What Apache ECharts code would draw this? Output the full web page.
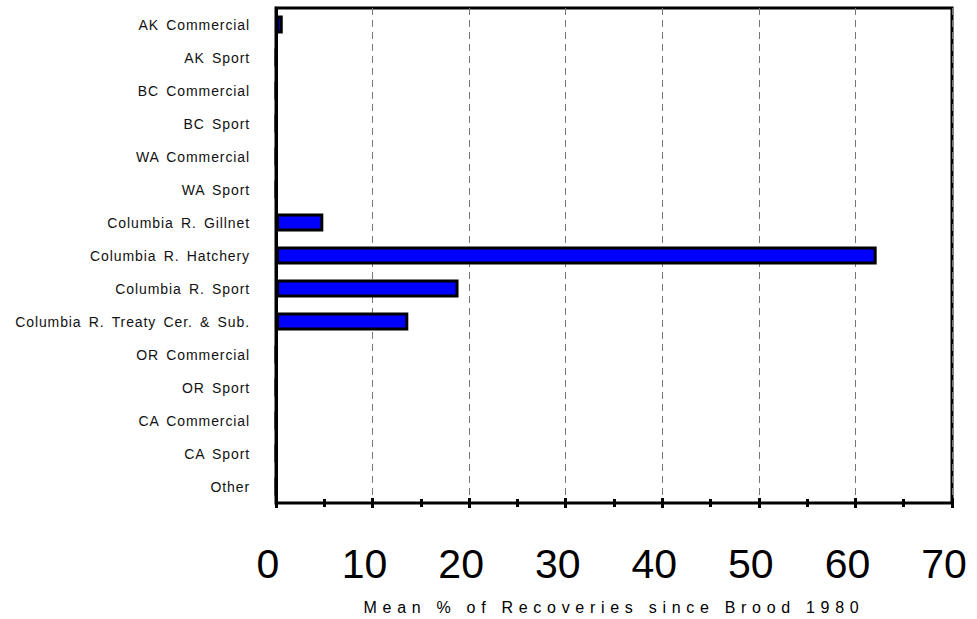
<!DOCTYPE html>
<html>
<head>
<meta charset="utf-8">
<script src="https://cdn.jsdelivr.net/npm/echarts@6/dist/echarts.min.js"></script>
<style>
  html, body { margin: 0; padding: 0; background: #fff; }
  #chart { width: 977px; height: 619px; }
</style>
</head>
<body>
<div id="chart"></div>
<script>
const categories = [
  'AK Commercial', 'AK Sport', 'BC Commercial', 'BC Sport', 'WA Commercial',
  'WA Sport', 'Columbia R. Gillnet', 'Columbia R. Hatchery', 'Columbia R. Sport',
  'Columbia R. Treaty Cer. & Sub.', 'OR Commercial', 'OR Sport', 'CA Commercial',
  'CA Sport', 'Other'
];
const meanRecoveries = [0.7, 0, 0, 0, 0, 0, 4.9, 62.2, 18.9, 13.7, 0, 0, 0, 0, 0];
const xTicks = [0, 10, 20, 30, 40, 50, 60, 70];
const xTitle = 'Mean % of Recoveries since Brood 1980';

const chart = echarts.init(document.getElementById('chart'), null, { renderer: 'svg' });

const tickAxis = (inside) => ({
  type: 'value',
  position: 'bottom',
  min: xTicks[0],
  max: xTicks[xTicks.length - 1],
  interval: 10,
  axisLine: { show: inside, lineStyle: { color: '#000', width: 2 } },
  axisTick: { show: true, inside: inside, length: 5, lineStyle: { color: '#000', width: 3 } },
  minorTick: { show: true, splitNumber: 2, length: 4, lineStyle: { color: '#000', width: 3 } },
  splitLine: { show: false },
  axisLabel: { show: false }
});

const mainX = tickAxis(true);
mainX.axisLabel = {
  show: true, color: '#000', fontSize: 41, margin: 40,
  padding: [0, 16, 0, 0],
  fontFamily: 'Liberation Sans, Arial, sans-serif'
};
mainX.splitLine = { show: true, lineStyle: { color: '#777', type: [7, 5], width: 1 } };
mainX.name = xTitle;
mainX.nameLocation = 'middle';
mainX.nameGap = 96;
mainX.nameTextStyle = { color: '#000', fontSize: 16, fontFamily: 'Liberation Sans, Arial, sans-serif' };

chart.setOption({
  animation: false,
  grid: {
    left: 276, right: 25, top: 8, bottom: 116,
    outerBoundsMode: 'none',
    show: true, borderColor: '#000', borderWidth: 3, backgroundColor: 'transparent'
  },
  xAxis: [mainX, tickAxis(false)],
  yAxis: {
    type: 'category',
    inverse: true,
    data: categories,
    axisLine: { show: true, lineStyle: { color: '#000', width: 3 } },
    axisTick: { show: false },
    axisLabel: {
      color: '#111', fontSize: 14, margin: 26,
      fontFamily: 'Liberation Sans, Arial, sans-serif'
    }
  },
  series: [{
    type: 'bar',
    data: meanRecoveries,
    barWidth: '54%',
    itemStyle: { color: '#0000ff', borderColor: '#000', borderWidth: 3 }
  }]
});

// the original text is set with wide letter spacing
function spaceText() {
  document.querySelectorAll('#chart text').forEach(t => {
    const s = t.textContent;
    if (s === xTitle) {
      t.setAttribute('letter-spacing', '5.7px');
    } else if (categories.includes(s)) {
      t.setAttribute('letter-spacing', '0.9px');
      t.setAttribute('word-spacing', '2.5px');
    }
  });
}
chart.on('finished', spaceText);
spaceText();
</script>
</body>
</html>
